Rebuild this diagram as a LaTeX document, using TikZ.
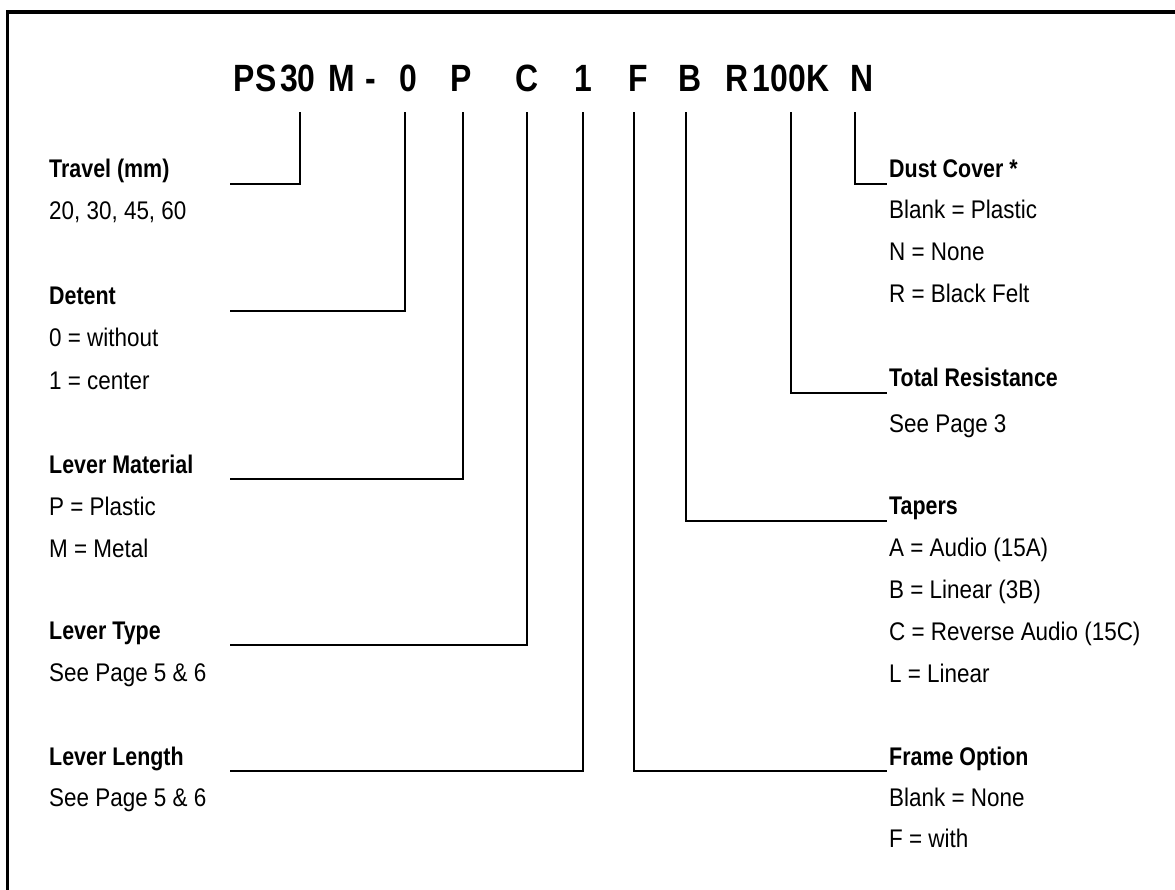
\documentclass[tikz,border=0pt]{standalone}
\usepackage{fontspec}
\setmainfont{Liberation Sans}[FakeStretch=0.88]
\newfontfamily\headfont{Liberation Sans}[FakeStretch=0.84]
\usepackage{tikz}
\usetikzlibrary{positioning,calc}

\begin{document}
\begin{tikzpicture}[
        x=1pt, y=-1pt,
        code_char/.style={
            anchor=base,
            font=\headfont\bfseries\fontsize{38}{40}\selectfont,
            inner xsep=0pt,
            inner ysep=20pt,
            text depth=0pt
        },
        head_text/.style={
            anchor=base west,
            inner sep=0pt,
            font=\headfont\bfseries\fontsize{25.5}{30}\selectfont
        },
        sub_text/.style={
            anchor=base west,
            inner sep=0pt,
            font=\fontsize{25.5}{30}\selectfont
        },
        link/.style={
            draw=black,
            line width=2pt
        },
        outer_frame/.style={
            draw=black,
            line width=3.5pt
        }
    ]
        \useasboundingbox (0,0) rectangle (1175,890);
        \draw[outer_frame] (7.5,890) -- (7.5,12) -- (1175,12);

        % Code letters
        \node[code_char] (ps)    at (255, 92) {PS};
        \node[code_char] (n30)   at (298, 92) {30};
        \node[code_char] (m)     at (342, 92) {M};
        \node[code_char] (dash)  at (371, 92) {-};
        \node[code_char] (c0)    at (408, 92) {0};
        \node[code_char] (cp)    at (461, 92) {P};
        \node[code_char] (cc)    at (527, 92) {C};
        \node[code_char] (c1)    at (583, 92) {1};
        \node[code_char] (cf)    at (638, 92) {F};
        \node[code_char] (cb)    at (690, 92) {B};
        \node[code_char] (cr)    at (737, 92) {R};
        \node[code_char] (c100k) at (791, 92) {100K};
        \node[code_char] (cn)    at (862, 92) {N};

        % Line ends
        \coordinate (travel_end)   at (230, 184);
        \coordinate (detent_end)   at (230, 311);
        \coordinate (material_end) at (230, 479);
        \coordinate (type_end)     at (230, 645);
        \coordinate (length_end)   at (230, 771);
        \coordinate (dust_end)     at (887, 184);
        \coordinate (res_end)      at (887, 393);
        \coordinate (taper_end)    at (887, 521);
        \coordinate (frame_end)    at (887, 771);

        % Left labels
        \node[head_text] (travel) at (49, 178) {Travel (mm)};
        \node[sub_text] (travel_1) at (49, 220) {20, 30, 45, 60};

        \node[head_text] (detent) at (49, 305) {Detent};
        \foreach \t [count=\i] in {0 = without, 1 = center}
            \node[sub_text] (detent_\i) at (49, 305+42*\i) {\t};

        \node[head_text] (material) at (49, 473) {Lever Material};
        \foreach \t [count=\i] in {P = Plastic, M = Metal}
            \node[sub_text] (material_\i) at (49, 473+42*\i) {\t};

        \node[head_text] (type) at (49, 639) {Lever Type};
        \node[sub_text] (type_1) at (49, 681) {See Page 5 \& 6};

        \node[head_text] (length) at (49, 765) {Lever Length};
        \node[sub_text] (length_1) at (49, 806) {See Page 5 \& 6};

        % Right labels
        \node[head_text] (dust) at (889, 178) {Dust Cover *};
        \foreach \t [count=\i] in {Blank = Plastic, N = None, R = Black Felt}
            \node[sub_text] (dust_\i) at (889, 177+42*\i) {\t};

        \node[head_text] (res) at (889, 387) {Total Resistance};
        \node[sub_text] (res_1) at (889, 432) {See Page 3};

        \node[head_text] (taper) at (889, 514) {Tapers};
        \foreach \t [count=\i] in {A = Audio (15A), B = Linear (3B), C = Reverse Audio (15C), L = Linear}
            \node[sub_text] (taper_\i) at (889, 514+42*\i) {\t};

        \node[head_text] (frame) at (889, 765) {Frame Option};
        \foreach \t [count=\i] in {Blank = None, F = with}
            \node[sub_text] (frame_\i) at (889, 765+41*\i) {\t};

        % Connectors
        \draw[link] ([xshift=2pt]n30.south) |- (travel_end);
        \draw[link] ([xshift=-3pt]c0.south) |- (detent_end);
        \draw[link] ([xshift=2pt]cp.south) |- (material_end);
        \draw[link] (cc.south) |- (type_end);
        \draw[link] (c1.south) |- (length_end);
        \draw[link] ([xshift=-4pt]cf.south) |- (frame_end);
        \draw[link] ([xshift=-4pt]cb.south) |- (taper_end);
        \draw[link] (c100k.south) |- (res_end);
        \draw[link] ([xshift=-7pt]cn.south) |- (dust_end);
    \end{tikzpicture}
\end{document}
